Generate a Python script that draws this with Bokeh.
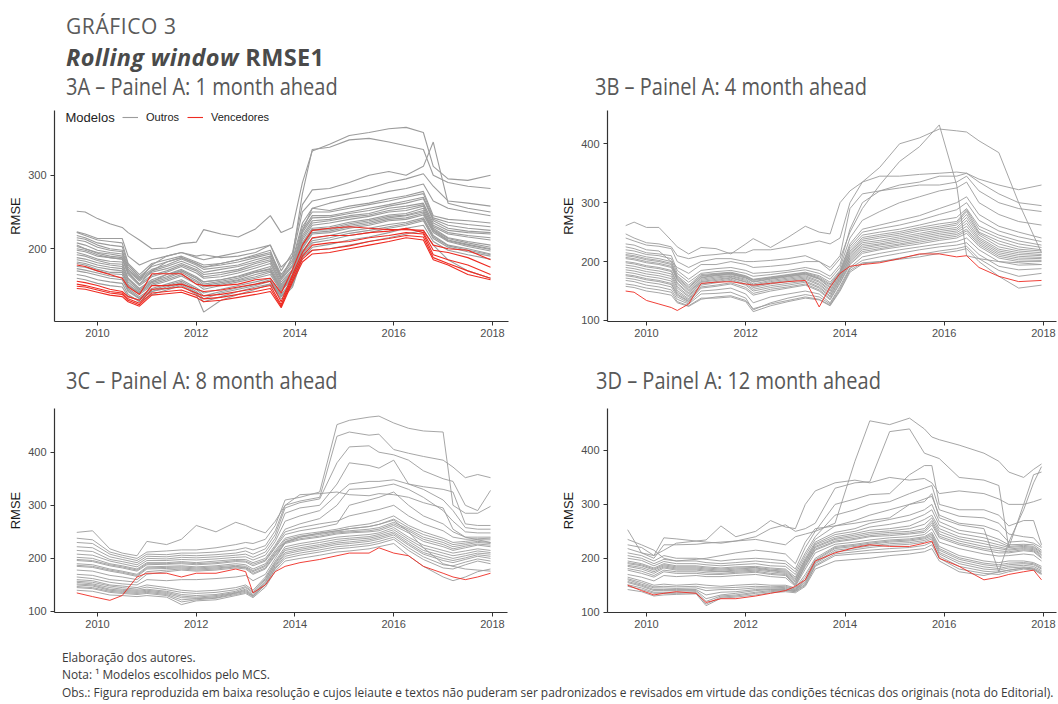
from bokeh.plotting import figure
from bokeh.models import Div, FixedTicker, Range1d, Label, Legend, LegendItem
from bokeh.layouts import column, row
from bokeh.embed import file_html
from bokeh.resources import INLINE

# ---------------- texts ----------------
TITLE_1 = "GRÁFICO 3"
TITLE_2_ITALIC = "Rolling window"
TITLE_2_BOLD = "RMSE1"
SUB_A = "3A – Painel A: 1 month ahead"
SUB_B = "3B – Painel A: 4 month ahead"
SUB_C = "3C – Painel A: 8 month ahead"
SUB_D = "3D – Painel A: 12 month ahead"
NOTE_1 = "Elaboração dos autores."
NOTE_2 = "Nota: ¹ Modelos escolhidos pelo MCS."
NOTE_3 = ("Obs.: Figura reproduzida em baixa resolução e cujos leiaute e textos não puderam ser "
          "padronizados e revisados em virtude das condições técnicas dos originais (nota do Editorial).")
Y_LABEL = "RMSE"
LEGEND_TITLE = "Modelos"
SERIES_NAMES = ["Outros", "Vencedores"]

YEAR_TICKS = [2010, 2012, 2014, 2016, 2018]
RMSE_TICKS = [100, 200, 300, 400]

# ---------------- Panel A: 1 month ahead ----------------
DATES_A = [2009.58, 2009.75, 2010.0, 2010.25, 2010.5, 2010.62, 2010.85, 2011.1, 2011.4, 2011.7,
           2012.0, 2012.15, 2012.5, 2012.85, 2013.2, 2013.5, 2013.72, 2013.95, 2014.15, 2014.35,
           2014.7, 2015.1, 2015.5, 2015.9, 2016.25, 2016.6, 2016.8, 2017.1, 2017.5, 2017.96]
A_OUTROS = [
    [251, 250, 241, 234, 229, 222, 212, 200, 201, 207, 209, 226, 220, 216, 227, 245, 222, 229, 290, 333, 342, 354, 358, 363, 365, 358, 312, 295, 293, 300],
    [223, 220, 214, 214, 214, 190, 178, 185, 190, 195, 190, 192, 188, 190, 195, 205, 175, 190, 275, 335, 338, 348, 350, 345, 340, 335, 300, 290, 285, 282],
    [222, 218, 212, 210, 208, 180, 165, 180, 185, 190, 182, 178, 180, 185, 190, 195, 165, 185, 235, 255, 252, 258, 262, 268, 272, 278, 245, 240, 238, 235],
    [215, 213, 205, 200, 198, 175, 160, 172, 178, 186, 178, 172, 175, 178, 185, 190, 160, 178, 225, 245, 245, 250, 255, 260, 265, 270, 240, 232, 228, 225],
    [208, 205, 198, 195, 193, 170, 156, 168, 173, 180, 172, 165, 168, 172, 180, 185, 155, 172, 218, 238, 240, 245, 248, 255, 258, 262, 235, 225, 222, 220],
    [200, 198, 192, 188, 186, 165, 150, 162, 168, 176, 167, 160, 162, 167, 174, 180, 150, 168, 212, 232, 235, 240, 244, 250, 252, 258, 230, 220, 216, 212],
    [195, 192, 186, 183, 182, 160, 146, 158, 165, 172, 162, 155, 158, 163, 170, 176, 148, 165, 208, 228, 230, 236, 240, 246, 248, 255, 228, 215, 210, 205],
    [188, 186, 181, 178, 176, 155, 142, 154, 160, 168, 157, 150, 154, 158, 165, 170, 145, 162, 205, 225, 226, 232, 236, 242, 245, 250, 225, 212, 206, 200],
    [182, 180, 175, 172, 170, 150, 138, 150, 156, 163, 152, 145, 150, 155, 160, 165, 142, 160, 200, 220, 222, 228, 232, 238, 240, 246, 222, 210, 203, 197],
    [176, 175, 170, 166, 165, 146, 135, 146, 152, 158, 147, 140, 145, 150, 155, 160, 138, 157, 197, 214, 218, 224, 228, 233, 236, 242, 218, 205, 200, 193],
    [170, 168, 164, 160, 158, 142, 132, 142, 148, 154, 142, 132, 140, 145, 150, 156, 135, 152, 192, 208, 212, 218, 222, 228, 232, 238, 214, 202, 196, 190],
    [165, 163, 158, 155, 153, 138, 128, 138, 144, 150, 138, 114, 130, 138, 145, 152, 132, 148, 188, 202, 206, 212, 216, 222, 228, 232, 210, 198, 192, 186],
    [205, 200, 195, 193, 190, 172, 158, 178, 190, 195, 188, 185, 190, 195, 200, 205, 170, 195, 260, 280, 282, 290, 300, 305, 300, 312, 345, 262, 255, 250],
    [198, 196, 190, 188, 186, 168, 152, 170, 182, 188, 180, 175, 180, 185, 192, 198, 160, 190, 250, 265, 270, 275, 282, 290, 295, 302, 285, 265, 262, 258],
    [180, 178, 172, 168, 168, 150, 140, 155, 165, 170, 160, 155, 158, 162, 168, 172, 145, 170, 225, 255, 262, 268, 272, 278, 282, 288, 265, 255, 250, 245],
    [160, 158, 153, 150, 148, 135, 130, 142, 146, 152, 140, 128, 135, 142, 148, 152, 135, 150, 190, 198, 200, 205, 210, 215, 220, 225, 205, 185, 170, 160],
    [212, 210, 202, 198, 196, 172, 158, 170, 176, 183, 175, 168, 172, 176, 182, 188, 158, 176, 222, 242, 243, 248, 252, 258, 262, 268, 238, 228, 224, 222],
    [192, 190, 184, 180, 179, 158, 144, 156, 162, 170, 160, 152, 156, 160, 168, 173, 146, 164, 206, 226, 228, 234, 238, 244, 246, 252, 226, 214, 208, 202],
    [185, 183, 178, 175, 173, 152, 140, 152, 158, 165, 155, 148, 152, 157, 162, 168, 143, 161, 202, 222, 224, 230, 234, 240, 242, 248, 224, 211, 205, 199],
    [173, 171, 167, 163, 161, 144, 133, 144, 150, 156, 145, 136, 142, 147, 152, 158, 136, 154, 194, 211, 215, 221, 225, 230, 234, 240, 216, 204, 198, 192],
    [218, 215, 208, 205, 203, 178, 162, 176, 182, 188, 180, 175, 178, 182, 188, 193, 162, 182, 230, 250, 250, 255, 260, 265, 270, 275, 242, 236, 233, 230],
    [203, 200, 194, 190, 188, 167, 152, 164, 170, 178, 170, 162, 165, 170, 177, 183, 152, 170, 215, 235, 238, 243, 246, 252, 255, 260, 232, 222, 218, 215],
]
A_VENCEDORES = [
    [178, 176, 170, 165, 160, 148, 138, 166, 166, 166, 152, 150, 150, 152, 158, 160, 140, 172, 205, 225, 228, 230, 228, 226, 226, 225, 205, 200, 198, 185],
    [156, 154, 150, 145, 142, 135, 130, 150, 150, 152, 145, 142, 144, 148, 152, 156, 128, 165, 195, 215, 218, 218, 222, 224, 228, 222, 198, 195, 188, 175],
    [152, 150, 146, 142, 140, 132, 126, 145, 146, 148, 140, 136, 138, 142, 146, 150, 124, 162, 190, 205, 208, 210, 215, 218, 222, 220, 192, 185, 178, 165],
    [149, 148, 144, 140, 138, 130, 124, 140, 142, 144, 137, 132, 134, 138, 142, 146, 122, 158, 186, 198, 200, 204, 210, 214, 218, 216, 188, 180, 170, 160],
    [146, 145, 141, 137, 135, 128, 122, 137, 139, 141, 134, 128, 130, 134, 138, 142, 120, 155, 182, 193, 195, 200, 205, 210, 215, 212, 185, 178, 165, 158],
]

# ---------------- Panel B: 4 month ahead ----------------
DATES_B = [2009.58, 2009.75, 2010.0, 2010.25, 2010.5, 2010.62, 2010.85, 2011.1, 2011.4, 2011.7,
           2012.0, 2012.15, 2012.5, 2012.85, 2013.2, 2013.48, 2013.7, 2013.9, 2014.1, 2014.35,
           2014.7, 2015.1, 2015.5, 2015.9, 2016.25, 2016.45, 2016.7, 2017.1, 2017.5, 2017.96]
B_OUTROS = [
    [261, 267, 258, 258, 236, 225, 213, 224, 222, 213, 230, 239, 224, 241, 260, 250, 247, 300, 320, 335, 345, 345, 348, 350, 352, 350, 340, 330, 322, 330],
    [247, 240, 232, 230, 225, 210, 205, 210, 212, 215, 215, 220, 220, 225, 230, 235, 230, 240, 300, 335, 360, 400, 410, 425, 422, 420, 405, 385, 300, 215],
    [230, 228, 220, 218, 200, 190, 180, 195, 195, 200, 195, 190, 192, 195, 200, 200, 185, 205, 250, 290, 330, 370, 395, 432, 330, 210, 205, 200, 198, 195],
    [225, 222, 215, 213, 210, 185, 170, 185, 188, 190, 185, 180, 182, 185, 190, 185, 175, 195, 255, 300, 320, 330, 335, 345, 345, 350, 335, 315, 300, 295],
    [220, 218, 212, 210, 205, 180, 165, 180, 183, 185, 180, 175, 178, 182, 186, 180, 170, 190, 240, 270, 285, 300, 310, 320, 325, 335, 300, 280, 268, 262],
    [215, 213, 208, 205, 200, 176, 160, 178, 180, 182, 176, 170, 174, 178, 182, 176, 165, 185, 230, 255, 262, 270, 278, 290, 300, 310, 280, 260, 250, 240],
    [210, 208, 203, 200, 195, 172, 155, 175, 178, 180, 174, 168, 172, 176, 180, 172, 160, 182, 222, 245, 250, 255, 262, 270, 275, 290, 260, 245, 235, 228],
    [205, 203, 198, 195, 190, 168, 150, 172, 176, 178, 172, 165, 170, 174, 178, 170, 155, 180, 215, 238, 243, 248, 255, 260, 265, 285, 250, 235, 225, 220],
    [198, 196, 191, 188, 183, 162, 145, 168, 172, 175, 168, 160, 166, 170, 174, 165, 150, 176, 210, 232, 236, 242, 248, 254, 258, 275, 245, 225, 218, 215],
    [190, 188, 183, 180, 175, 155, 140, 165, 168, 172, 165, 156, 162, 166, 170, 160, 145, 172, 205, 226, 230, 236, 242, 248, 252, 265, 238, 218, 212, 210],
    [182, 180, 175, 172, 167, 148, 135, 160, 164, 168, 160, 150, 156, 160, 165, 155, 140, 168, 200, 220, 225, 230, 236, 242, 246, 255, 232, 212, 206, 205],
    [176, 174, 169, 166, 161, 143, 132, 155, 158, 162, 153, 143, 150, 155, 160, 150, 135, 163, 195, 214, 220, 225, 230, 236, 240, 248, 226, 206, 200, 200],
    [172, 170, 165, 162, 157, 140, 130, 150, 152, 155, 145, 130, 140, 145, 150, 145, 130, 158, 190, 208, 214, 220, 225, 230, 234, 240, 220, 200, 194, 195],
    [168, 166, 160, 157, 152, 136, 128, 145, 146, 148, 138, 118, 130, 138, 144, 140, 128, 155, 188, 202, 208, 214, 220, 225, 228, 232, 212, 192, 186, 188],
    [162, 160, 155, 152, 148, 132, 125, 138, 138, 140, 132, 115, 125, 132, 138, 135, 125, 150, 182, 196, 200, 206, 212, 218, 222, 226, 205, 185, 175, 180],
    [158, 156, 150, 147, 143, 130, 124, 136, 140, 142, 134, 120, 128, 134, 140, 136, 126, 152, 185, 198, 200, 204, 208, 214, 218, 222, 200, 175, 155, 160],
    [240, 235, 228, 226, 222, 200, 190, 200, 205, 205, 200, 200, 202, 205, 210, 200, 190, 210, 290, 315, 320, 325, 330, 330, 335, 345, 320, 300, 290, 285],
    [207, 205, 200, 197, 192, 170, 152, 173, 177, 179, 173, 166, 171, 175, 179, 171, 157, 181, 218, 241, 246, 251, 258, 264, 268, 288, 255, 240, 230, 224],
    [194, 192, 187, 184, 179, 158, 142, 166, 170, 173, 166, 158, 164, 168, 172, 162, 147, 174, 207, 229, 233, 239, 245, 251, 255, 270, 241, 221, 215, 212],
    [186, 184, 179, 176, 171, 151, 137, 162, 166, 170, 162, 153, 159, 163, 167, 157, 142, 170, 202, 223, 228, 233, 239, 245, 249, 260, 235, 215, 209, 207],
    [200, 198, 193, 190, 185, 164, 147, 170, 174, 176, 170, 162, 168, 172, 176, 167, 152, 178, 212, 235, 240, 245, 252, 257, 262, 280, 248, 230, 221, 218],
    [178, 176, 171, 168, 163, 145, 133, 157, 160, 164, 156, 146, 153, 157, 162, 152, 137, 165, 197, 217, 222, 228, 233, 239, 243, 252, 229, 209, 203, 202],
    [212, 210, 205, 202, 197, 174, 157, 176, 179, 181, 175, 169, 173, 177, 181, 174, 162, 183, 226, 250, 256, 262, 270, 280, 288, 300, 270, 252, 242, 234],
]
B_VENCEDORES = [
    [150, 148, 134, 128, 122, 117, 128, 163, 165, 166, 162, 160, 163, 166, 168, 123, 157, 180, 192, 195, 198, 205, 213, 213, 208, 210, 190, 175, 166, 168],
]

# ---------------- Panel C: 8 month ahead ----------------
DATES_C = [2009.58, 2009.9, 2010.25, 2010.5, 2010.8, 2011.0, 2011.4, 2011.7, 2012.0, 2012.4,
           2012.8, 2013.0, 2013.15, 2013.4, 2013.6, 2013.8, 2014.1, 2014.5, 2014.85, 2015.1,
           2015.5, 2015.7, 2016.0, 2016.3, 2016.6, 2017.0, 2017.2, 2017.45, 2017.7, 2017.96]
C_OUTROS = [
    [249, 252, 218, 210, 205, 232, 226, 236, 262, 250, 268, 262, 256, 248, 270, 300, 320, 322, 325, 320, 318, 322, 320, 315, 305, 295, 255, 240, 235, 230],
    [238, 235, 212, 206, 200, 212, 214, 216, 216, 220, 226, 230, 228, 236, 262, 310, 315, 325, 452, 460, 466, 468, 455, 445, 440, 438, 300, 285, 285, 298],
    [230, 228, 208, 202, 196, 208, 207, 210, 210, 212, 216, 220, 216, 224, 252, 300, 308, 315, 430, 438, 432, 434, 405, 398, 392, 385, 372, 352, 358, 352],
    [222, 220, 203, 198, 192, 204, 203, 206, 205, 207, 210, 214, 208, 218, 245, 295, 305, 312, 380, 410, 412, 400, 395, 385, 365, 350, 345, 300, 290, 328],
    [215, 213, 198, 194, 188, 200, 199, 202, 201, 203, 206, 208, 202, 212, 238, 285, 295, 300, 340, 380, 375, 370, 385, 340, 335, 330, 325, 265, 262, 262],
    [208, 206, 195, 190, 184, 196, 196, 198, 197, 199, 202, 203, 197, 206, 232, 270, 280, 290, 320, 340, 345, 345, 348, 340, 330, 310, 290, 258, 255, 255],
    [202, 200, 190, 186, 180, 192, 192, 194, 192, 195, 198, 198, 192, 200, 225, 255, 265, 275, 300, 330, 332, 335, 340, 330, 315, 290, 270, 250, 248, 248],
    [196, 194, 186, 182, 176, 188, 189, 190, 188, 190, 194, 193, 186, 195, 220, 245, 252, 258, 265, 300, 310, 315, 325, 300, 280, 265, 250, 240, 240, 240],
    [190, 188, 180, 176, 170, 184, 185, 186, 184, 186, 190, 188, 180, 190, 215, 238, 245, 250, 255, 260, 265, 270, 280, 262, 250, 238, 230, 232, 235, 235],
    [185, 183, 176, 172, 166, 180, 181, 182, 180, 182, 185, 183, 175, 185, 210, 232, 240, 245, 250, 252, 255, 258, 268, 255, 240, 230, 222, 226, 230, 228],
    [170, 168, 160, 158, 155, 170, 175, 178, 176, 178, 182, 180, 170, 180, 205, 228, 235, 240, 246, 248, 250, 252, 262, 248, 232, 222, 215, 220, 225, 222],
    [160, 158, 150, 148, 145, 150, 145, 140, 138, 140, 145, 150, 140, 165, 195, 222, 228, 234, 240, 242, 245, 248, 258, 240, 225, 215, 210, 214, 218, 215],
    [155, 152, 145, 142, 140, 142, 138, 132, 130, 132, 138, 145, 135, 160, 190, 215, 220, 226, 232, 235, 238, 242, 250, 232, 215, 205, 200, 205, 210, 208],
    [150, 148, 140, 138, 136, 138, 134, 126, 125, 128, 135, 140, 130, 155, 185, 208, 214, 220, 226, 228, 232, 236, 244, 225, 208, 196, 192, 198, 204, 200],
    [145, 143, 136, 134, 132, 134, 130, 118, 122, 125, 132, 136, 128, 150, 180, 200, 206, 212, 218, 220, 224, 228, 236, 215, 198, 182, 180, 188, 195, 190],
    [140, 138, 131, 130, 128, 130, 127, 113, 120, 122, 130, 134, 126, 146, 176, 195, 200, 206, 212, 214, 218, 222, 228, 205, 185, 165, 158, 165, 175, 180],
    [165, 162, 155, 152, 150, 160, 158, 160, 160, 162, 165, 168, 158, 170, 200, 230, 240, 248, 252, 256, 260, 264, 272, 250, 220, 190, 185, 180, 178, 176],
    [198, 196, 188, 184, 178, 190, 190, 192, 190, 192, 196, 195, 189, 197, 222, 250, 258, 265, 270, 280, 288, 292, 300, 280, 265, 252, 240, 236, 237, 238],
    [187, 185, 178, 174, 168, 182, 183, 184, 182, 184, 187, 185, 177, 187, 212, 235, 242, 247, 252, 256, 260, 264, 274, 258, 245, 234, 226, 229, 232, 230],
    [178, 176, 168, 165, 160, 175, 178, 180, 178, 180, 184, 182, 172, 182, 207, 230, 237, 242, 248, 250, 252, 255, 265, 252, 236, 226, 218, 223, 227, 225],
    [157, 155, 148, 145, 142, 146, 141, 136, 134, 136, 141, 147, 137, 162, 192, 218, 224, 230, 236, 238, 241, 245, 254, 236, 220, 210, 205, 209, 214, 211],
    [152, 150, 142, 140, 138, 140, 136, 129, 127, 130, 136, 142, 132, 157, 187, 211, 217, 223, 229, 231, 235, 239, 247, 228, 211, 200, 196, 201, 207, 204],
    [147, 145, 138, 136, 134, 136, 132, 122, 124, 126, 134, 138, 129, 152, 182, 204, 210, 216, 222, 224, 228, 232, 240, 220, 203, 188, 186, 193, 199, 195],
]
C_VENCEDORES = [
    [135, 128, 121, 130, 165, 172, 172, 165, 172, 172, 180, 175, 135, 150, 175, 185, 192, 198, 205, 210, 210, 220, 210, 205, 185, 172, 165, 160, 165, 172],
]

# ---------------- Panel D: 12 month ahead ----------------
DATES_D = [2009.62, 2009.9, 2010.15, 2010.35, 2010.6, 2011.0, 2011.2, 2011.5, 2011.8, 2012.2,
           2012.5, 2012.8, 2013.0, 2013.2, 2013.4, 2013.8, 2014.2, 2014.5, 2014.9, 2015.3,
           2015.6, 2015.75, 2015.9, 2016.3, 2016.8, 2017.1, 2017.3, 2017.6, 2017.8, 2017.96]
D_OUTROS = [
    [253, 210, 205, 215, 228, 232, 234, 260, 240, 250, 270, 258, 255, 300, 325, 340, 345, 340, 350, 345, 348, 340, 320, 325, 320, 310, 300, 300, 305, 310],
    [225, 220, 205, 238, 236, 232, 230, 228, 232, 235, 230, 225, 240, 245, 250, 265, 380, 455, 448, 460, 440, 425, 420, 410, 395, 380, 360, 350, 365, 375],
    [218, 210, 200, 225, 225, 226, 228, 230, 232, 240, 255, 262, 250, 255, 265, 330, 340, 342, 435, 440, 395, 390, 385, 350, 345, 335, 220, 300, 355, 360],
    [210, 205, 195, 205, 200, 200, 198, 195, 198, 200, 198, 195, 180, 220, 250, 300, 310, 318, 320, 355, 372, 372, 300, 290, 290, 280, 260, 270, 270, 225],
    [205, 200, 190, 198, 195, 195, 192, 190, 192, 195, 192, 190, 175, 210, 240, 280, 290, 300, 305, 320, 330, 335, 290, 278, 275, 265, 245, 240, 238, 222],
    [200, 196, 186, 194, 190, 190, 188, 186, 188, 190, 186, 185, 170, 205, 235, 260, 270, 280, 290, 300, 310, 315, 280, 265, 260, 250, 230, 232, 228, 220],
    [195, 190, 182, 190, 186, 186, 184, 182, 184, 185, 182, 180, 165, 200, 230, 248, 255, 265, 272, 280, 290, 300, 268, 252, 245, 235, 225, 226, 225, 215],
    [190, 186, 178, 186, 182, 182, 180, 178, 180, 182, 178, 176, 160, 195, 225, 240, 246, 252, 255, 260, 272, 280, 255, 240, 232, 225, 220, 222, 220, 210],
    [185, 180, 172, 182, 178, 178, 176, 175, 176, 178, 175, 172, 155, 190, 220, 235, 240, 245, 248, 250, 255, 270, 245, 232, 222, 218, 215, 218, 216, 205],
    [178, 172, 165, 175, 172, 172, 170, 170, 172, 174, 170, 168, 150, 185, 215, 230, 235, 240, 242, 245, 248, 262, 238, 225, 215, 210, 210, 214, 212, 200],
    [170, 165, 158, 168, 166, 168, 166, 166, 168, 170, 166, 164, 148, 180, 210, 226, 230, 234, 238, 240, 244, 255, 230, 218, 208, 204, 205, 208, 206, 195],
    [165, 158, 150, 152, 150, 152, 150, 148, 150, 152, 150, 150, 145, 170, 200, 222, 226, 230, 234, 236, 240, 248, 222, 205, 195, 192, 195, 195, 192, 185],
    [160, 152, 145, 145, 144, 145, 140, 142, 142, 145, 145, 146, 142, 160, 195, 218, 222, 226, 230, 232, 236, 242, 215, 198, 188, 185, 188, 190, 188, 180],
    [155, 148, 140, 140, 140, 140, 125, 132, 135, 140, 142, 142, 140, 155, 190, 212, 216, 220, 224, 226, 230, 236, 208, 190, 180, 178, 182, 184, 182, 175],
    [148, 142, 135, 135, 135, 136, 115, 128, 130, 135, 138, 140, 138, 150, 185, 205, 208, 210, 212, 215, 218, 225, 200, 180, 172, 170, 175, 180, 178, 170],
    [142, 138, 130, 132, 133, 134, 112, 126, 128, 132, 136, 138, 136, 148, 180, 195, 198, 200, 205, 208, 212, 218, 195, 175, 168, 175, 178, 182, 180, 172],
    [235, 225, 215, 200, 195, 198, 200, 205, 210, 215, 212, 208, 190, 230, 255, 260, 265, 270, 275, 300, 305, 320, 275, 262, 255, 175, 230, 290, 340, 370],
    [192, 188, 180, 188, 184, 184, 182, 180, 182, 183, 180, 178, 162, 197, 227, 244, 250, 258, 263, 270, 281, 290, 261, 246, 238, 230, 222, 224, 222, 212],
    [187, 183, 175, 184, 180, 180, 178, 176, 178, 180, 177, 174, 157, 192, 222, 237, 243, 248, 251, 255, 263, 275, 250, 236, 227, 221, 217, 220, 218, 207],
    [181, 176, 168, 178, 175, 175, 173, 172, 174, 176, 172, 170, 152, 187, 217, 232, 237, 242, 245, 247, 251, 266, 241, 228, 218, 214, 212, 216, 214, 202],
    [162, 155, 147, 148, 147, 148, 145, 145, 146, 148, 147, 148, 143, 165, 197, 220, 224, 228, 232, 234, 238, 245, 218, 201, 191, 188, 191, 192, 190, 182],
    [157, 150, 142, 142, 142, 142, 132, 137, 138, 142, 143, 144, 141, 157, 192, 215, 219, 223, 227, 229, 233, 239, 211, 194, 184, 181, 185, 187, 185, 177],
    [151, 145, 137, 137, 137, 138, 120, 130, 132, 137, 140, 141, 139, 152, 187, 208, 212, 215, 218, 220, 224, 230, 204, 185, 176, 174, 178, 182, 180, 172],
]
D_VENCEDORES = [
    [150, 140, 132, 135, 138, 135, 118, 125, 125, 130, 135, 140, 148, 160, 195, 210, 220, 225, 222, 222, 228, 232, 200, 185, 160, 165, 170, 175, 178, 160],
]

for dts, groups in ((DATES_A, (A_OUTROS, A_VENCEDORES)), (DATES_B, (B_OUTROS, B_VENCEDORES)),
                    (DATES_C, (C_OUTROS, C_VENCEDORES)), (DATES_D, (D_OUTROS, D_VENCEDORES))):
    for grp in groups:
        for s in grp:
            assert len(s) == len(dts), (len(s), len(dts))

# ---------------- styles ----------------
GRAY = "#9c9c9c"
RED = "#ee2b22"
AXIS_COLOR = "#333333"
TICK_TEXT = "#4d4d4d"


def make_panel(dates, outros, venc, width, height, xr, yr, borders, lw):
    p = figure(width=width, height=height, title=None,
               x_range=Range1d(xr[0], xr[1]), y_range=Range1d(yr[0], yr[1]),
               output_backend="svg", toolbar_location=None,
               min_border_left=borders[0], min_border_right=borders[1],
               min_border_top=borders[2], min_border_bottom=borders[3])
    p.outline_line_color = None
    p.background_fill_color = "white"
    p.border_fill_color = "white"
    p.xgrid.visible = False
    p.ygrid.visible = False
    g = p.multi_line(xs=[dates] * len(outros), ys=outros, line_color=GRAY, line_width=lw)
    r = p.multi_line(xs=[dates] * len(venc), ys=venc, line_color=RED, line_width=lw)
    for ax in (p.xaxis[0], p.yaxis[0]):
        ax.axis_line_color = AXIS_COLOR
        ax.axis_line_width = 1.2
        ax.major_tick_line_color = AXIS_COLOR
        ax.major_tick_out = 4
        ax.major_tick_in = 0
        ax.minor_tick_line_color = None
        ax.major_label_text_font = "Liberation Sans"
        ax.major_label_text_font_size = "11px"
        ax.major_label_text_color = TICK_TEXT
    p.xaxis.ticker = FixedTicker(ticks=YEAR_TICKS)
    p.yaxis.ticker = FixedTicker(ticks=RMSE_TICKS)
    p.xaxis.major_label_standoff = 3
    p.yaxis.major_label_standoff = 4
    p.yaxis.axis_label = Y_LABEL
    p.yaxis.axis_label_text_font = "Liberation Sans"
    p.yaxis.axis_label_text_font_size = "13px"
    p.yaxis.axis_label_text_font_style = "normal"
    p.yaxis.axis_label_text_color = "#1a1a1a"
    p.yaxis.axis_label_standoff = 2
    return p, g, r


# Row 1 frames share top 110 / bottom 321 on the page.
# Panel A (frame: x 54-508)
pA, gA, rA = make_panel(DATES_A, A_OUTROS, A_VENCEDORES, 530, 245,
                        (2009.129, 2018.324), (101.2, 387.9), (54, 22, 10, 24), 1.1)
pA.add_layout(Label(x=11, y=204, x_units="screen", y_units="screen", text=LEGEND_TITLE,
                    text_font="Liberation Sans", text_font_size="13px", text_color="#222222",
                    text_baseline="middle"))
legend = Legend(items=[LegendItem(label=SERIES_NAMES[0], renderers=[gA]),
                       LegendItem(label=SERIES_NAMES[1], renderers=[rA])],
                orientation="horizontal", location=(68, 198), padding=0, margin=0, spacing=8,
                glyph_width=16, glyph_height=12, label_height=12, label_width=10, label_standoff=8,
                label_text_font="Liberation Sans", label_text_font_size="11px",
                label_text_color="#222222", border_line_color=None, background_fill_alpha=0)
pA.add_layout(legend)

# Panel B (frame: x 607-1056)
pB, _, _ = make_panel(DATES_B, B_OUTROS, B_VENCEDORES, 528, 245,
                      (2009.214, 2018.262), (98.3, 456.5), (77, 2, 10, 24), 0.9)
# Row 2 frames share top 408 / bottom 612.
# Panel C (frame: x 54-507)
pC, _, _ = make_panel(DATES_C, C_OUTROS, C_VENCEDORES, 530, 245,
                      (2009.129, 2018.304), (98.1, 482.3), (54, 23, 13, 28), 0.9)
# Panel D (frame: x 607-1056)
pD, _, _ = make_panel(DATES_D, D_OUTROS, D_VENCEDORES, 528, 245,
                      (2009.214, 2018.262), (99.4, 477.9), (77, 2, 13, 28), 0.9)

FONT = "font-family:'Open Sans',sans-serif;white-space:nowrap;position:absolute;"
SUB_STYLE = FONT + "font-size:23px;line-height:23px;color:#585858;transform:scaleX(0.87);transform-origin:0 0;"

header = Div(text=f"""
<div style="position:relative;width:1058px;height:100px;">
<div style="{FONT}left:66px;top:16px;font-size:21px;line-height:21px;color:#5a5a5a;letter-spacing:0.6px;">{TITLE_1}</div>
<div style="{FONT}left:66px;top:46px;font-size:23.5px;line-height:23.5px;color:#4a4a4a;font-weight:700;letter-spacing:0.35px;"><i>{TITLE_2_ITALIC}</i> {TITLE_2_BOLD}</div>
<div style="{SUB_STYLE}left:66px;top:75px;">{SUB_A}</div>
<div style="{SUB_STYLE}left:595px;top:75px;">{SUB_B}</div>
</div>""", width=1058, height=100, margin=0)

middle = Div(text=f"""
<div style="position:relative;width:1058px;height:50px;">
<div style="{SUB_STYLE}left:66px;top:24px;">{SUB_C}</div>
<div style="{SUB_STYLE}left:596px;top:24px;">{SUB_D}</div>
</div>""", width=1058, height=50, margin=0)

NOTE_STYLE = (FONT + "font-size:12.5px;line-height:17.3px;color:#3a3a3a;"
              "transform:scaleX(0.952);transform-origin:0 0;left:62px;top:9px;")
notes = Div(text=f"""
<div style="position:relative;width:1058px;height:64px;">
<div style="{NOTE_STYLE}">{NOTE_1}<br>{NOTE_2}<br>{NOTE_3}</div>
</div>""", width=1058, height=64, margin=0)

layout = column(header, row(pA, pB, spacing=0), middle, row(pC, pD, spacing=0), notes, spacing=0)

with open("out.html", "w") as f:
    f.write(file_html(layout, INLINE, title="Rolling window RMSE"))
